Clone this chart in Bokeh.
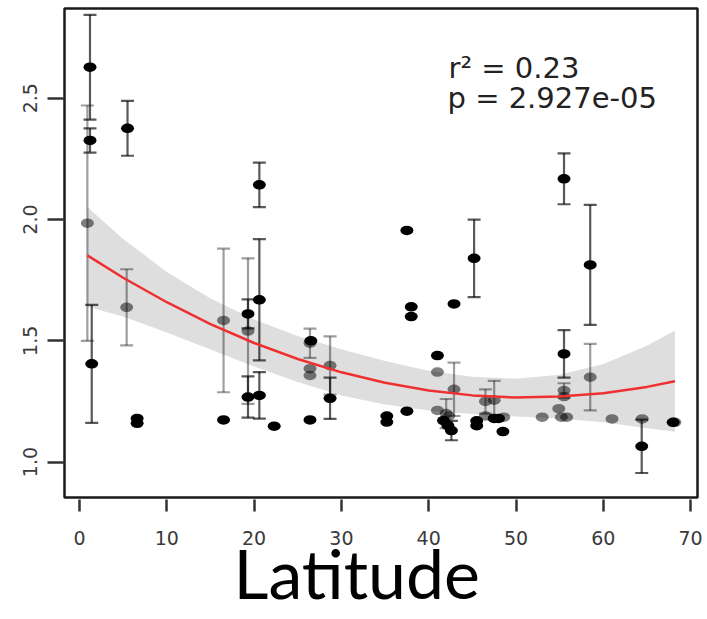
from bokeh.plotting import figure
from bokeh.models import Range1d, FixedTicker, Label, ColumnDataSource, Title
from bokeh.embed import file_html
from bokeh.resources import INLINE

# ---- data ----
x_ticks = [0, 10, 20, 30, 40, 50, 60, 70]
x_tick_labels = ["0", "10", "20", "30", "40", "50", "60", "70"]
y_ticks = [1.0, 1.5, 2.0, 2.5]
y_tick_labels = ["1.0", "1.5", "2.0", "2.5"]

# black points (se = 0 -> no error bar)
black_lat = [1.2, 1.2, 1.4, 5.5, 20.6, 19.3, 19.3, 20.6, 20.6, 28.7, 45.2, 55.5, 58.5, 55.5, 64.4, 42.6,
             6.6, 6.6, 16.5, 22.3, 26.4, 26.5, 37.5, 38.0, 38.0, 42.9, 41.0, 37.5, 35.2, 35.2, 41.7,
             42.2, 45.5, 45.5, 47.5, 48.0, 48.5, 68.0]
black_val = [2.628, 2.326, 1.405, 2.376, 2.143, 1.611, 1.268, 1.669, 1.275, 1.263, 1.840, 2.168, 1.813, 1.446, 1.065, 1.130,
             1.180, 1.160, 1.174, 1.148, 1.174, 1.500, 1.955, 1.640, 1.600, 1.652, 1.439, 1.210, 1.190, 1.165, 1.171,
             1.150, 1.170, 1.150, 1.180, 1.180, 1.126, 1.164]
black_se = [0.216, 0.050, 0.243, 0.113, 0.092, 0.060, 0.085, 0.250, 0.096, 0.085, 0.160, 0.105, 0.247, 0.098, 0.110, 0.040,
            0, 0, 0, 0, 0, 0, 0, 0, 0, 0, 0, 0, 0, 0, 0,
            0, 0, 0, 0, 0, 0, 0]

# grey points
gray_lat = [0.9, 5.4, 16.5, 19.3, 26.4, 26.4, 26.4, 28.7, 41.0, 42.9, 41.0, 42.0, 42.3, 46.5, 47.5, 46.5,
            48.6, 53.0, 54.9, 55.2, 55.8, 55.5, 55.5, 58.5, 61.0, 64.45, 68.2]
gray_val = [1.985, 1.638, 1.584, 1.540, 1.490, 1.357, 1.385, 1.398, 1.371, 1.300, 1.213, 1.200, 1.190, 1.250, 1.255, 1.190,
            1.185, 1.185, 1.220, 1.185, 1.185, 1.295, 1.270, 1.350, 1.178, 1.178, 1.164]
gray_se = [0.485, 0.157, 0.296, 0.300, 0.060, 0, 0, 0.120, 0, 0.110, 0, 0.060, 0, 0.050, 0.080, 0,
           0, 0, 0, 0, 0, 0.030, 0, 0.137, 0, 0, 0]

# quadratic fit and its confidence band
fit_lat = [0.9, 5, 10, 15, 20, 25, 30, 35, 40, 45, 50, 55, 60, 65, 68.2]
fit_val = [1.852, 1.760, 1.659, 1.569, 1.491, 1.425, 1.370, 1.327, 1.295, 1.275, 1.266, 1.270, 1.284, 1.310, 1.333]
fit_upper = [2.052, 1.920, 1.784, 1.674, 1.588, 1.520, 1.465, 1.417, 1.377, 1.352, 1.344, 1.360, 1.404, 1.480, 1.543]
fit_lower = [1.640, 1.600, 1.534, 1.464, 1.394, 1.330, 1.275, 1.237, 1.213, 1.198, 1.188, 1.180, 1.164, 1.140, 1.125]

r2_text = "r² = 0.23"
p_text = "p = 2.927e-05"
x_title = "Latitude"

# ---- figure ----
p = figure(frame_width=633, frame_height=489,
           min_border_left=64, min_border_right=9, min_border_top=8, min_border_bottom=121,
           x_range=Range1d(-1.72, 70.79), y_range=Range1d(0.854, 2.870),
           output_backend="svg", toolbar_location=None)
p.grid.visible = False
p.outline_line_color = "#1a1a1a"
p.outline_line_width = 2.5
p.background_fill_color = "white"
p.border_fill_color = "white"

for ax in (p.xaxis, p.yaxis):
    ax.axis_line_color = None
    ax.minor_tick_line_color = None
    ax.major_tick_line_color = "#333333"
    ax.major_tick_line_width = 2.5
    ax.major_label_text_font = "DejaVu Sans"
    ax.major_label_text_font_size = "19px"
    ax.major_label_text_color = "#3a3a3a"

p.xaxis.ticker = FixedTicker(ticks=x_ticks)
p.xaxis.major_label_overrides = {t: l for t, l in zip(x_ticks, x_tick_labels)}
p.xaxis.major_tick_in = -2
p.xaxis.major_tick_out = 14
p.xaxis.major_label_standoff = 19

p.yaxis.ticker = FixedTicker(ticks=y_ticks)
p.yaxis.major_label_overrides = {t: l for t, l in zip(y_ticks, y_tick_labels)}
p.yaxis.major_tick_in = 0
p.yaxis.major_tick_out = 17
p.yaxis.major_label_standoff = 10
p.yaxis.major_label_orientation = "vertical"

# confidence band
p.varea(x=fit_lat, y1=fit_lower, y2=fit_upper, fill_color="#dedede")


def bars(lat, val, se, color, alpha):
    idx = [i for i, s in enumerate(se) if s > 0]
    src = ColumnDataSource(dict(
        x=[lat[i] for i in idx],
        lo=[val[i] - se[i] for i in idx],
        hi=[val[i] + se[i] for i in idx]))
    p.segment(x0="x", y0="lo", x1="x", y1="hi", source=src,
              line_color=color, line_alpha=alpha, line_width=2.2)
    p.scatter(x="x", y="lo", source=src, marker="dash", size=13,
              line_color=color, line_alpha=alpha, line_width=2.2)
    p.scatter(x="x", y="hi", source=src, marker="dash", size=13,
              line_color=color, line_alpha=alpha, line_width=2.2)


bars(gray_lat, gray_val, gray_se, "black", 0.38)
p.ellipse(x=gray_lat, y=gray_val, width=13, height=9.5, width_units="screen", height_units="screen",
          fill_color="black", fill_alpha=0.5, line_color=None)
bars(black_lat, black_val, black_se, "black", 0.65)
p.ellipse(x=black_lat, y=black_val, width=13, height=9.5, width_units="screen", height_units="screen",
          fill_color="black", line_color=None)

p.line(fit_lat, fit_val, line_color="#f03030", line_width=2.5)

p.add_layout(Label(x=384, y=430, x_units="screen", y_units="screen", text=r2_text,
                   text_font="DejaVu Sans", text_font_size="29px", text_color="#222222",
                   text_baseline="alphabetic"))
p.add_layout(Label(x=383, y=400, x_units="screen", y_units="screen", text=p_text,
                   text_font="DejaVu Sans", text_font_size="29px", text_color="#222222",
                   text_baseline="alphabetic"))

p.add_layout(Title(text=x_title, align="left", offset=169, vertical_align="top", standoff=-32,
                   text_font="Lato", text_font_size="68px", text_font_style="normal",
                   text_color="black"), "below")

open("out.html", "w").write(file_html(p, INLINE))
